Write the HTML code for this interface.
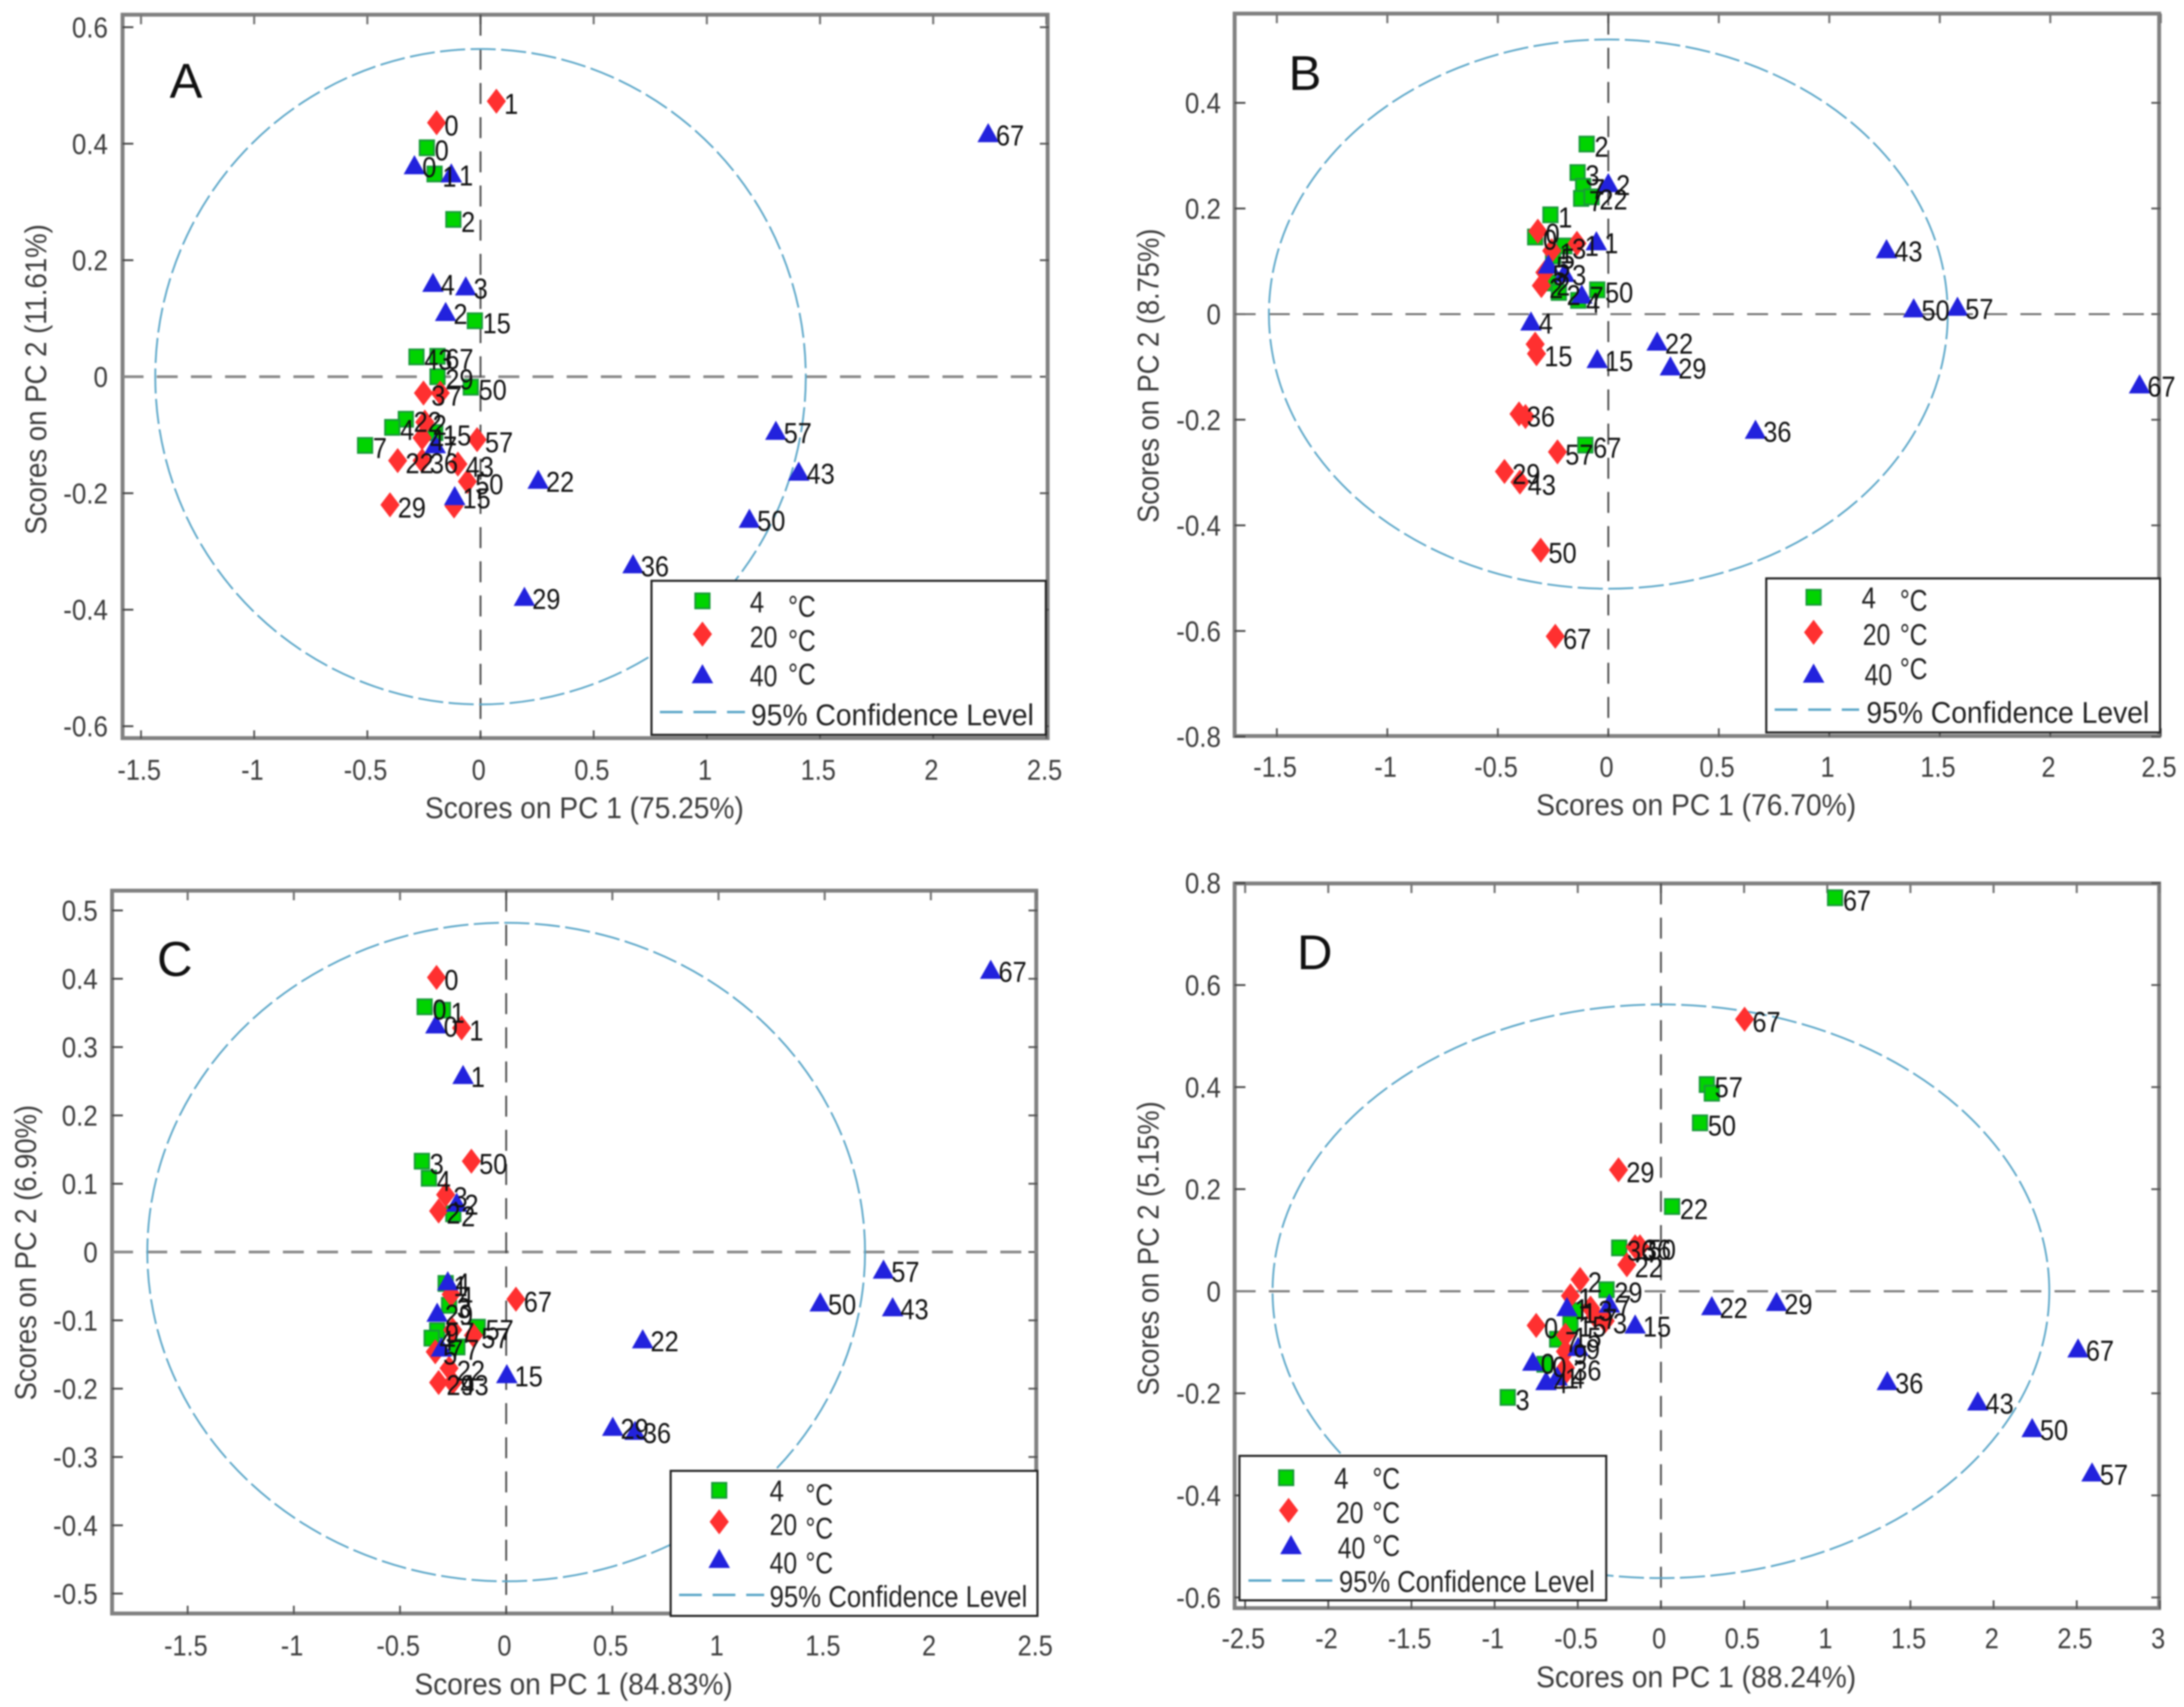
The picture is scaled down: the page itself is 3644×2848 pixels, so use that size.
<!DOCTYPE html>
<html lang="en">
<head>
<meta charset="utf-8">
<title>PCA score plots A–D</title>
<style>
html,body{margin:0;padding:0;background:#fff;}
svg{display:block;filter:blur(1.2px);font-family:"Liberation Sans",Arial,sans-serif;}
.tick-label{font-size:48px;fill:#3c3c3c;}
.axis-title{font-size:50px;fill:#3c3c3c;}
.point-label{font-size:48px;fill:#111;}
.legend-text{font-size:50px;fill:#222;}
.panel-letter{font-size:82px;fill:#111;}
.lg-box{fill:#fff;stroke:#222;stroke-width:3.5;}
.lg-dash{stroke:#5aa6c8;stroke-width:4;stroke-dasharray:38 18;fill:none;}
.g{fill:#00d400;stroke:#1a9a3a;stroke-width:3;}
.r{fill:#ff3030;}
.b{fill:#2222dd;}
</style>
</head>
<body>
<svg xmlns="http://www.w3.org/2000/svg" width="3644" height="2848" viewBox="0 0 3644 2848">
<rect width="3644" height="2848" fill="#fff"/>

<g>
  <g id="plot-a"></g>
  <text class="panel-letter" x="283" y="163">A</text>
  <text class="axis-title" x="975" y="1365" text-anchor="middle" textLength="532" lengthAdjust="spacingAndGlyphs">Scores on PC 1 (75.25%)</text>
  <text class="axis-title" transform="translate(77,633) rotate(-90)" text-anchor="middle" textLength="518" lengthAdjust="spacingAndGlyphs">Scores on PC 2 (11.61%)</text>
  <g>
    <rect class="lg-box" x="1087" y="969" width="658" height="257"/>
    <rect class="g" x="1160" y="990" width="24" height="25"/>
    <polygon class="r" points="1172,1037 1188,1058 1172,1079 1156,1058"/>
    <polygon class="b" points="1172,1108 1190,1140 1154,1140"/>
    <line class="lg-dash" x1="1101" y1="1188" x2="1243" y2="1188"/>
    <text class="legend-text" x="1251" y="1022" textLength="24" lengthAdjust="spacingAndGlyphs">4</text>
    <text class="legend-text" x="1315" y="1029" textLength="46" lengthAdjust="spacingAndGlyphs">°C</text>
    <text class="legend-text" x="1251" y="1080" textLength="46" lengthAdjust="spacingAndGlyphs">20</text>
    <text class="legend-text" x="1315" y="1086" textLength="46" lengthAdjust="spacingAndGlyphs">°C</text>
    <text class="legend-text" x="1251" y="1145" textLength="46" lengthAdjust="spacingAndGlyphs">40</text>
    <text class="legend-text" x="1315" y="1142" textLength="46" lengthAdjust="spacingAndGlyphs">°C</text>
    <text class="legend-text" x="1253" y="1210" textLength="472" lengthAdjust="spacingAndGlyphs">95% Confidence Level</text>
  </g>
</g>

<g>
  <g id="plot-b"></g>
  <text class="panel-letter" x="2150" y="150">B</text>
  <text class="axis-title" x="2830" y="1360" text-anchor="middle" textLength="534" lengthAdjust="spacingAndGlyphs">Scores on PC 1 (76.70%)</text>
  <text class="axis-title" transform="translate(1933,627) rotate(-90)" text-anchor="middle" textLength="491" lengthAdjust="spacingAndGlyphs">Scores on PC 2 (8.75%)</text>
  <g>
    <rect class="lg-box" x="2947" y="965" width="657" height="257"/>
    <rect class="g" x="3014" y="984" width="24" height="25"/>
    <polygon class="r" points="3026,1034 3042,1055 3026,1076 3010,1055"/>
    <polygon class="b" points="3026,1107 3044,1139 3008,1139"/>
    <line class="lg-dash" x1="2961" y1="1184" x2="3102" y2="1184"/>
    <text class="legend-text" x="3106" y="1015" textLength="24" lengthAdjust="spacingAndGlyphs">4</text>
    <text class="legend-text" x="3170" y="1019" textLength="46" lengthAdjust="spacingAndGlyphs">°C</text>
    <text class="legend-text" x="3108" y="1076" textLength="46" lengthAdjust="spacingAndGlyphs">20</text>
    <text class="legend-text" x="3170" y="1076" textLength="46" lengthAdjust="spacingAndGlyphs">°C</text>
    <text class="legend-text" x="3111" y="1143" textLength="46" lengthAdjust="spacingAndGlyphs">40</text>
    <text class="legend-text" x="3170" y="1133" textLength="46" lengthAdjust="spacingAndGlyphs">°C</text>
    <text class="legend-text" x="3114" y="1206" textLength="472" lengthAdjust="spacingAndGlyphs">95% Confidence Level</text>
  </g>
</g>

<g>
  <g id="plot-c"></g>
  <text class="panel-letter" x="262" y="1628">C</text>
  <text class="axis-title" x="957" y="2827" text-anchor="middle" textLength="531" lengthAdjust="spacingAndGlyphs">Scores on PC 1 (84.83%)</text>
  <text class="axis-title" transform="translate(60,2090) rotate(-90)" text-anchor="middle" textLength="493" lengthAdjust="spacingAndGlyphs">Scores on PC 2 (6.90%)</text>
  <g>
    <rect class="lg-box" x="1119" y="2454" width="612" height="242"/>
    <rect class="g" x="1188" y="2474" width="24" height="25"/>
    <polygon class="r" points="1200,2518 1216,2539 1200,2560 1184,2539"/>
    <polygon class="b" points="1200,2584 1218,2616 1182,2616"/>
    <line class="lg-dash" x1="1133" y1="2661" x2="1275" y2="2661"/>
    <text class="legend-text" x="1284" y="2505" textLength="24" lengthAdjust="spacingAndGlyphs">4</text>
    <text class="legend-text" x="1344" y="2511" textLength="46" lengthAdjust="spacingAndGlyphs">°C</text>
    <text class="legend-text" x="1284" y="2561" textLength="46" lengthAdjust="spacingAndGlyphs">20</text>
    <text class="legend-text" x="1344" y="2567" textLength="46" lengthAdjust="spacingAndGlyphs">°C</text>
    <text class="legend-text" x="1284" y="2625" textLength="46" lengthAdjust="spacingAndGlyphs">40</text>
    <text class="legend-text" x="1344" y="2625" textLength="46" lengthAdjust="spacingAndGlyphs">°C</text>
    <text class="legend-text" x="1284" y="2681" textLength="430" lengthAdjust="spacingAndGlyphs">95% Confidence Level</text>
  </g>
</g>

<g>
  <g id="plot-d"></g>
  <text class="panel-letter" x="2164" y="1617">D</text>
  <text class="axis-title" x="2830" y="2815" text-anchor="middle" textLength="534" lengthAdjust="spacingAndGlyphs">Scores on PC 1 (88.24%)</text>
  <text class="axis-title" transform="translate(1933,2083) rotate(-90)" text-anchor="middle" textLength="491" lengthAdjust="spacingAndGlyphs">Scores on PC 2 (5.15%)</text>
  <g>
    <rect class="lg-box" x="2068" y="2429" width="612" height="241"/>
    <rect class="g" x="2134" y="2453" width="24" height="25"/>
    <polygon class="r" points="2150,2499 2166,2520 2150,2541 2134,2520"/>
    <polygon class="b" points="2154,2561 2172,2593 2136,2593"/>
    <line class="lg-dash" x1="2083" y1="2637" x2="2223" y2="2637"/>
    <text class="legend-text" x="2226" y="2484" textLength="24" lengthAdjust="spacingAndGlyphs">4</text>
    <text class="legend-text" x="2290" y="2484" textLength="46" lengthAdjust="spacingAndGlyphs">°C</text>
    <text class="legend-text" x="2229" y="2541" textLength="46" lengthAdjust="spacingAndGlyphs">20</text>
    <text class="legend-text" x="2290" y="2541" textLength="46" lengthAdjust="spacingAndGlyphs">°C</text>
    <text class="legend-text" x="2232" y="2600" textLength="46" lengthAdjust="spacingAndGlyphs">40</text>
    <text class="legend-text" x="2290" y="2596" textLength="46" lengthAdjust="spacingAndGlyphs">°C</text>
    <text class="legend-text" x="2234" y="2656" textLength="427" lengthAdjust="spacingAndGlyphs">95% Confidence Level</text>
  </g>
</g>
</svg>

<script>
// ---------- Panel A ----------
const aXTicks = ['-1.5','-1','-0.5','0','0.5','1','1.5','2','2.5'];
const aYTicks = ['0.6','0.4','0.2','0','-0.2','-0.4','-0.6'];
const aXDomain = [-1.5815, 2.511];
const aYDomain = [-0.6215, 0.6215];
const aEllipse = [1.437, 0.5626];
const aGreenLabels = ['0','1','2','15','67','43','29','50','22','4','7','15'];
const aGreenX = [-0.237,-0.203,-0.12,-0.025,-0.19,-0.283,-0.19,-0.043,-0.33,-0.39,-0.51,-0.2];
const aGreenY = [0.393,0.348,0.27,0.096,0.035,0.034,0,-0.018,-0.073,-0.087,-0.118,-0.096];
const aRedLabels = ['0','1','3','7','2','4','57','22','36','43','50','29',''];
const aRedX = [-0.194,0.07,-0.252,-0.178,-0.246,-0.258,-0.015,-0.366,-0.258,-0.1,-0.058,-0.4,-0.117];
const aRedY = [0.436,0.473,-0.028,-0.028,-0.078,-0.105,-0.108,-0.144,-0.144,-0.15,-0.18,-0.22,-0.222];
const aBlueLabels = ['0','1','4','3','2','7','15','22','29','36','50','43','57','67'];
const aBlueX = [-0.292,-0.129,-0.21,-0.065,-0.154,-0.2,-0.114,0.255,0.194,0.674,1.188,1.406,1.305,2.243];
const aBlueY = [0.364,0.35,0.162,0.156,0.112,-0.115,-0.204,-0.176,-0.377,-0.321,-0.243,-0.162,-0.092,0.419];

// ---------- Panel B ----------
const bXTicks = ['-1.5','-1','-0.5','0','0.5','1','1.5','2','2.5'];
const bYTicks = ['0.4','0.2','0','-0.2','-0.4','-0.6','-0.8'];
const bXDomain = [-1.691, 2.498];
const bYDomain = [-0.8, 0.569];
const bEllipse = [1.536, 0.52];
const bGreenLabels = ['2','3','7','7','22','1','0','3','5','2','2','4','50','67'];
const bGreenX = [-0.098,-0.139,-0.114,-0.123,-0.076,-0.262,-0.331,-0.199,-0.25,-0.271,-0.224,-0.136,-0.05,-0.104];
const bGreenY = [0.322,0.268,0.242,0.219,0.222,0.188,0.146,0.129,0.11,0.059,0.041,0.026,0.046,-0.248];
const bRedLabels = ['0','1','1','5','2','','15','36','','57','29','43','50','67'];
const bRedX = [-0.319,-0.256,-0.142,-0.287,-0.303,-0.331,-0.325,-0.404,-0.375,-0.23,-0.47,-0.4,-0.306,-0.24];
const bRedY = [0.157,0.12,0.134,0.079,0.054,-0.057,-0.075,-0.189,-0.194,-0.261,-0.298,-0.318,-0.447,-0.61];
const bBlueLabels = ['2','1','5','3','7','4','15','22','29','36','43','50','57','67'];
const bBlueX = [0,-0.054,-0.271,-0.199,-0.12,-0.35,-0.05,0.221,0.281,0.666,1.259,1.382,1.58,2.404];
const bBlueY = [0.249,0.139,0.095,0.079,0.038,-0.013,-0.084,-0.051,-0.098,-0.218,0.124,0.012,0.015,-0.132];

// ---------- Panel C ----------
const cXTicks = ['-1.5','-1','-0.5','0','0.5','1','1.5','2','2.5'];
const cYTicks = ['0.5','0.4','0.3','0.2','0.1','0','-0.1','-0.2','-0.3','-0.4','-0.5'];
const cXDomain = [-1.856, 2.502];
const cYDomain = [-0.53, 0.529];
const cEllipse = [1.69, 0.482];
const cGreenLabels = ['0','1','3','4','2','1','3','57','9','4','7'];
const cGreenX = [-0.384,-0.298,-0.397,-0.364,-0.249,-0.285,-0.269,-0.134,-0.325,-0.351,-0.23];
const cGreenY = [0.359,0.354,0.133,0.108,0.056,-0.046,-0.078,-0.11,-0.115,-0.126,-0.139];
const cRedLabels = ['0','1','50','3','2','67','4','7','57','5','22','29','43'];
const cRedX = [-0.328,-0.21,-0.164,-0.285,-0.318,0.046,-0.259,-0.252,-0.154,-0.334,-0.269,-0.318,-0.252];
const cRedY = [0.402,0.328,0.133,0.084,0.06,-0.069,-0.062,-0.114,-0.122,-0.146,-0.17,-0.191,-0.191];
const cBlueLabels = ['0','1','2','4','29','7','15','22','29','36','50','43','57','67'];
const cBlueX = [-0.331,-0.203,-0.233,-0.275,-0.325,-0.305,0.003,0.643,0.502,0.607,1.479,1.82,1.777,2.282];
const cBlueY = [0.334,0.26,0.073,-0.042,-0.088,-0.139,-0.178,-0.127,-0.255,-0.261,-0.073,-0.08,-0.025,0.414];

// ---------- Panel D ----------
const dXTicks = ['-2.5','-2','-1.5','-1','-0.5','0','0.5','1','1.5','2','2.5','3'];
const dYTicks = ['0.8','0.6','0.4','0.2','0','-0.2','-0.4','-0.6'];
const dXDomain = [-2.563, 3.0025];
const dYDomain = [-0.622, 0.799];
const dEllipse = [2.335, 0.562];
const dGreenLabels = ['67','57','','50','22','36','29','1','15','7','0','3'];
const dGreenX = [1.047,0.276,0.306,0.235,0.067,-0.251,-0.327,-0.519,-0.544,-0.624,-0.7,-0.921];
const dGreenY = [0.771,0.405,0.388,0.33,0.166,0.085,0.003,-0.038,-0.064,-0.094,-0.143,-0.208];
const dRedLabels = ['67','29','36','50','22','2','1','3','7','3','0','15','9','36','4'];
const dRedX = [0.503,-0.255,-0.155,-0.126,-0.205,-0.486,-0.544,-0.423,-0.394,-0.335,-0.75,-0.574,-0.574,-0.574,-0.59];
const dRedY = [0.533,0.238,0.087,0.087,0.052,0.023,-0.009,-0.033,-0.049,-0.058,-0.067,-0.086,-0.118,-0.15,-0.166];
const dBlueLabels = ['1','7','15','22','29','9','0','4','1','36','43','50','57','67'];
const dBlueX = [-0.565,-0.31,-0.155,0.306,0.695,-0.498,-0.77,-0.691,-0.624,1.361,1.905,2.232,2.592,2.508];
const dBlueY = [-0.03,-0.023,-0.064,-0.028,-0.02,-0.108,-0.137,-0.175,-0.166,-0.175,-0.215,-0.267,-0.354,-0.111];

const SVG_NS = 'http://www.w3.org/2000/svg';
function mk(parent, tag, attrs, text) {
  const el = document.createElementNS(SVG_NS, tag);
  for (const k in attrs) el.setAttribute(k, attrs[k]);
  if (text !== undefined) el.textContent = text;
  parent.appendChild(el);
  return el;
}

function drawPanel(id, box, opts, xDomain, yDomain, xTicks, yTicks, ellipse, series) {
  const root = document.getElementById(id);
  const xs = v => box.left + (v - xDomain[0]) / (xDomain[1] - xDomain[0]) * (box.right - box.left);
  const ys = v => box.bottom - (v - yDomain[0]) / (yDomain[1] - yDomain[0]) * (box.bottom - box.top);

  // plot frame
  const frame = mk(root, 'rect', {x: box.left, y: box.top, width: box.right - box.left - 2, height: box.bottom - box.top - 1, fill: '#fff', stroke: '#808080', 'stroke-width': 6.5});
  
  

  // ticks & tick labels
  xTicks.forEach(t => {
    const x = xs(Number(t));
    const b = mk(root, 'line', {x1: x, x2: x, y1: box.bottom, y2: box.bottom - 14, stroke: '#555', 'stroke-width': 3});
    
    
    const u = mk(root, 'line', {x1: x, x2: x, y1: box.top, y2: box.top + 16, stroke: '#777', 'stroke-width': 3.5});
    
    
    const l = mk(root, 'text', {class: 'tick-label', transform: 'translate(' + (x - 3) + ',' + opts.xTickY + ') scale(.88,1)', 'text-anchor': 'middle'}, t);
    
    
  });
  yTicks.forEach(t => {
    const y = ys(Number(t));
    const a = mk(root, 'line', {x1: box.left, x2: box.left + 18, y1: y, y2: y, stroke: '#444', 'stroke-width': 3});
    
    
    const c = mk(root, 'line', {x1: box.right, x2: box.right - 15, y1: y, y2: y, stroke: '#555', 'stroke-width': 3});
    
    
    const l = mk(root, 'text', {class: 'tick-label', transform: 'translate(' + opts.yTickRight + ',' + (y + 17) + ') scale(.9,1)', 'text-anchor': 'end'}, t);
    
    
  });

  // zero reference lines
  const hz = mk(root, 'line', {x1: box.left, x2: box.right, y1: ys(0), y2: ys(0), stroke: opts.hColor, 'stroke-width': opts.hWidth, 'stroke-dasharray': '35 22'});
  
  
  const vz = mk(root, 'line', {x1: xs(0), x2: xs(0), y1: box.top, y2: box.bottom, stroke: '#484848', 'stroke-width': 3, 'stroke-dasharray': '35 22'});
  
  

  // 95% confidence ellipse
  const el = mk(root, 'ellipse', {cx: xs(0), cy: ys(0), rx: xs(ellipse[0]) - xs(0), ry: ys(0) - ys(ellipse[1]), fill: 'none', stroke: '#5aa6c8', 'stroke-width': 3, 'stroke-dasharray': '42 9'});
  
  

  // markers (drawn in series order), labels on top
  const labelsToDraw = [];
  series.forEach(s => {
    s.x.forEach((vx, i) => {
      const px = xs(vx), py = ys(s.y[i]);
      let m;
      if (s.shape === 'square') {
        m = mk(root, 'rect', {class: 'g', x: px - 12, y: py - 12.5, width: 24, height: 25});
        
      } else if (s.shape === 'diamond') {
        m = mk(root, 'polygon', {class: 'r', points: [px, py - 21, px + 16, py, px, py + 21, px - 16, py].join(' ')});
        
      } else {
        m = mk(root, 'polygon', {class: 'b', points: [px, py - 16, px + 18, py + 16, px - 18, py + 16].join(' ')});
        
      }
      
      labelsToDraw.push([px, py, s.labels[i]]);
    });
  });
  labelsToDraw.forEach(p => {
    const t = mk(root, 'text', {class: 'point-label', transform: 'translate(' + (p[0] + 13) + ',' + (p[1] + 21) + ') scale(.88,1)'}, p[2]);
    
    
  });
}

drawPanel('plot-a', {left: 204.5, right: 1750, top: 24.5, bottom: 1232.5},
  {xTickY: 1301, yTickRight: 180, hColor: '#888', hWidth: 4.5},
  aXDomain, aYDomain, aXTicks, aYTicks, aEllipse,
  [{shape: 'square', labels: aGreenLabels, x: aGreenX, y: aGreenY},
   {shape: 'diamond', labels: aRedLabels, x: aRedX, y: aRedY},
   {shape: 'triangle', labels: aBlueLabels, x: aBlueX, y: aBlueY}]);

drawPanel('plot-b', {left: 2060, right: 3604.5, top: 22.7, bottom: 1229},
  {xTickY: 1296, yTickRight: 2037, hColor: '#666', hWidth: 3},
  bXDomain, bYDomain, bXTicks, bYTicks, bEllipse,
  [{shape: 'square', labels: bGreenLabels, x: bGreenX, y: bGreenY},
   {shape: 'diamond', labels: bRedLabels, x: bRedX, y: bRedY},
   {shape: 'triangle', labels: bBlueLabels, x: bBlueX, y: bBlueY}]);

drawPanel('plot-c', {left: 187, right: 1731, top: 1486, bottom: 2693},
  {xTickY: 2762, yTickRight: 163, hColor: '#888', hWidth: 4.5},
  cXDomain, cYDomain, cXTicks, cYTicks, cEllipse,
  [{shape: 'square', labels: cGreenLabels, x: cGreenX, y: cGreenY},
   {shape: 'diamond', labels: cRedLabels, x: cRedX, y: cRedY},
   {shape: 'triangle', labels: cBlueLabels, x: cBlueX, y: cBlueY}]);

drawPanel('plot-d', {left: 2060, right: 3604.5, top: 1474, bottom: 2684},
  {xTickY: 2750, yTickRight: 2037, hColor: '#777', hWidth: 3.5},
  dXDomain, dYDomain, dXTicks, dYTicks, dEllipse,
  [{shape: 'square', labels: dGreenLabels, x: dGreenX, y: dGreenY},
   {shape: 'diamond', labels: dRedLabels, x: dRedX, y: dRedY},
   {shape: 'triangle', labels: dBlueLabels, x: dBlueX, y: dBlueY}]);
</script>
</body>
</html>
